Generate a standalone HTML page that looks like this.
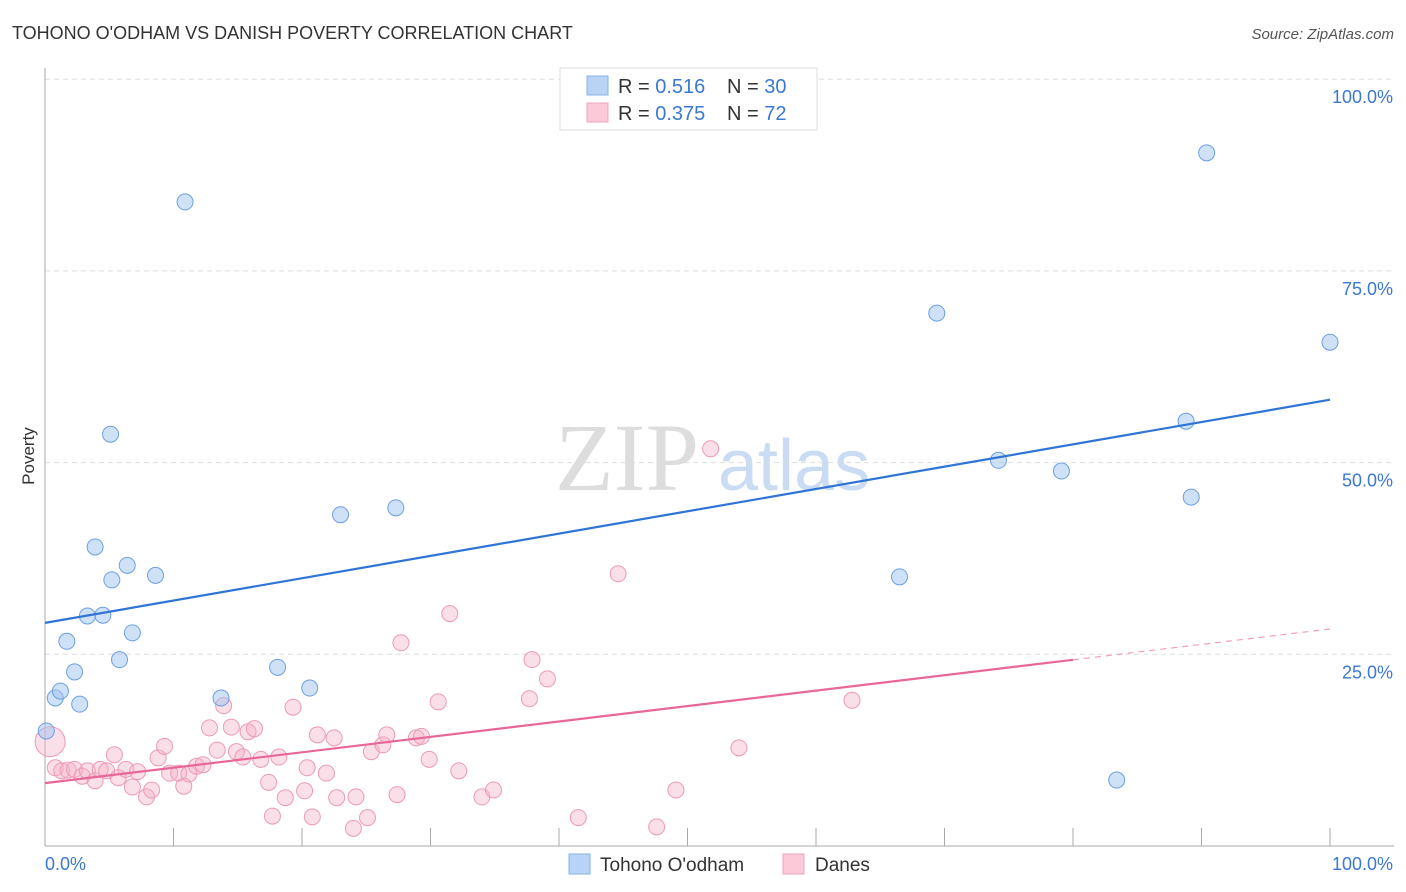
<!DOCTYPE html>
<html><head><meta charset="utf-8"><style>
body{margin:0;background:#fff;font-family:"Liberation Sans",sans-serif;}
svg{display:block}
</style></head><body>
<svg id="c" width="1406" height="892" xmlns="http://www.w3.org/2000/svg">
<text x="12" y="39" font-size="18" fill="#333">TOHONO O'ODHAM VS DANISH POVERTY CORRELATION CHART</text>
<text x="1394" y="39" font-size="15" fill="#555" font-style="italic" text-anchor="end">Source: ZipAtlas.com</text>
<text x="34" y="456" font-size="17" fill="#333" transform="rotate(-90 34 456)" text-anchor="middle">Poverty</text>
<g><text x="555" y="490" font-size="96" font-family="Liberation Serif" fill="#ddd">ZIP</text><text x="718" y="490" font-size="72" fill="#c9dcf3">atlas</text></g>
<g id="grid"></g><g id="marks"></g>
<g>
<rect x="560" y="68" width="257" height="62" fill="#fff" stroke="#ddd"/>
<rect x="587" y="76" width="21" height="19" fill="#b8d3f5" stroke="#86b1e8"/>
<rect x="587" y="103" width="21" height="19" fill="#fbc9d8" stroke="#f0a4bd"/>
<text x="618" y="93" font-size="20" fill="#333">R = <tspan fill="#3a78d4">0.516</tspan><tspan x="727">N = </tspan><tspan fill="#3a78d4">30</tspan></text>
<text x="618" y="120" font-size="20" fill="#333">R = <tspan fill="#3a78d4">0.375</tspan><tspan x="727">N = </tspan><tspan fill="#3a78d4">72</tspan></text>
</g>
<g>
<rect x="569" y="854" width="21" height="20" fill="#b8d3f5" stroke="#86b1e8"/>
<text x="600" y="871" font-size="19" fill="#333">Tohono O'odham</text>
<rect x="783" y="854" width="21" height="20" fill="#fbc9d8" stroke="#f0a4bd"/>
<text x="815" y="871" font-size="19" fill="#333">Danes</text>
</g>
<text x="45" y="870" font-size="18" fill="#3a78d4">0.0%</text>
<text x="1393" y="870" font-size="18" fill="#3a78d4" text-anchor="end">100.0%</text>
</svg>
<script>
const yTicks=[100,75,50,25];
const yTickLabels=["100.0%","75.0%","50.0%","25.0%"];
const blueX=[10.9,5.1,3.9,6.4,8.6,5.2,3.3,4.5,6.8,1.7,5.8,2.3,0.8,1.2,2.7,0.1,13.7,18.1,20.6,23.0,27.3,69.4,74.2,79.1,66.5,90.4,88.8,89.2,100,83.4];
const blueY=[84.0,53.7,39.0,36.6,35.3,34.7,30.0,30.1,27.8,26.7,24.3,22.7,19.3,20.2,18.5,15.0,19.3,23.3,20.6,43.2,44.1,69.5,50.3,48.9,35.1,90.4,55.4,45.5,65.7,8.6];
const pinkX=[0.4,0.8,1.3,1.8,2.3,2.9,3.3,3.9,4.3,4.8,5.4,5.7,6.3,6.8,7.2,7.9,8.3,8.8,9.3,9.7,10.4,10.8,11.2,11.8,12.3,12.8,13.4,13.9,14.5,14.9,15.4,15.8,16.3,16.8,17.4,17.7,18.2,18.7,19.3,20.2,20.4,20.8,21.2,21.9,22.5,22.7,24.0,24.2,25.1,25.4,26.3,26.6,27.4,27.7,28.9,29.3,29.9,30.6,31.5,32.2,34.0,34.9,37.7,37.9,39.1,41.5,44.6,47.6,49.1,51.8,54.0,62.8];
const pinkY=[13.6,10.2,9.8,9.9,10.0,9.1,9.8,8.5,10.0,9.8,11.9,8.9,10.0,7.7,9.7,6.4,7.3,11.5,13.0,9.5,9.5,7.8,9.4,10.4,10.6,15.4,12.5,18.3,15.5,12.3,11.6,14.9,15.3,11.3,8.3,3.9,11.6,6.3,18.1,7.2,10.2,3.8,14.5,9.5,14.1,6.3,2.3,6.4,3.7,12.3,13.2,14.5,6.7,26.5,14.1,14.3,11.3,18.8,30.3,9.8,6.4,7.3,19.2,24.3,21.8,3.7,35.5,2.5,7.3,51.8,12.8,19.0];
const blueTrend=[29.1,58.2], pinkTrend=[8.2,28.3], pinkSolidEnd=80;
const X=v=>45+v*12.85, Y=v=>846-v*7.668;
const NS="http://www.w3.org/2000/svg";
function mk(p,t,a){const e=document.createElementNS(NS,t);for(const k in a)e.setAttribute(k,a[k]);p.appendChild(e);return e;}
const g=document.getElementById('grid'),m=document.getElementById('marks');
yTicks.forEach((t,i)=>{
 const l=mk(g,'line',{x1:45,x2:1394,y1:Y(t),y2:Y(t),stroke:'#ddd','stroke-dasharray':'5,4'});
 
 
 const tx=mk(g,'text',{x:1393,y:Y(t)+24,'font-size':18,fill:'#3a78d4','text-anchor':'end'});tx.textContent=yTickLabels[i];
 
 
});
mk(g,'line',{x1:45,x2:45,y1:68,y2:846,stroke:'#aaa'});
mk(g,'line',{x1:45,x2:1394,y1:846,y2:846,stroke:'#aaa'});
for(let i=0;i<=10;i++){const t=mk(g,'line',{x1:X(i*10),x2:X(i*10),y1:828,y2:846,stroke:'#aaa'});
 
 }
pinkX.forEach((x,i)=>{const c=mk(m,'circle',{cx:X(x),cy:Y(pinkY[i]),r:i==0?15:8,fill:'rgba(244,176,198,0.4)',stroke:'#ec9ab4','stroke-width':1});
 
 });
blueX.forEach((x,i)=>{const c=mk(m,'circle',{cx:X(x),cy:Y(blueY[i]),r:8,fill:'rgba(160,196,240,0.5)',stroke:'#6d9fe0','stroke-width':1});
 
 });
const bl=mk(m,'line',{x1:X(0),y1:Y(blueTrend[0]),x2:X(100),y2:Y(blueTrend[1]),stroke:'#2f74d6','stroke-width':2.2});


const pe=pinkTrend[0]+(pinkTrend[1]-pinkTrend[0])*pinkSolidEnd/100;
const pl=mk(m,'line',{x1:X(0),y1:Y(pinkTrend[0]),x2:X(pinkSolidEnd),y2:Y(pe),stroke:'#e8669a','stroke-width':2.2});


const pd=mk(m,'line',{x1:X(pinkSolidEnd),y1:Y(pe),x2:X(100),y2:Y(pinkTrend[1]),stroke:'#f0a0bc','stroke-width':1.2,'stroke-dasharray':'6,5'});


</script>
</body></html>
